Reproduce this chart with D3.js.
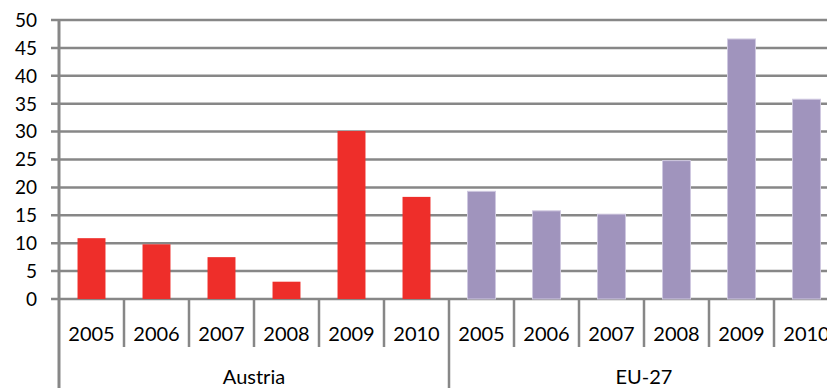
<!DOCTYPE html>
<html>
<head>
<meta charset="utf-8">
<script src="https://cdn.jsdelivr.net/npm/d3@7"></script>
<style>
  html, body { margin: 0; padding: 0; background: #fff; }
  svg { display: block; }
  text { font-family: Lato, "Open Sans", sans-serif; fill: #000; }
</style>
</head>
<body>
<svg id="chart" width="827" height="388"></svg>
<script>
// Chart data
const groups = ["Austria", "EU-27"];
const years = ["2005", "2006", "2007", "2008", "2009", "2010"];
const austria = [10.9, 9.8, 7.5, 3.1, 30.1, 18.3];
const eu27 = [19.3, 15.8, 15.2, 24.8, 46.6, 35.8];
const yTicks = [0, 5, 10, 15, 20, 25, 30, 35, 40, 45, 50];
const groupColors = ["#ee2e2a", "#a094bd"];

const rows = [];
[austria, eu27].forEach((vals, gi) => {
  vals.forEach((v, yi) => rows.push({ group: groups[gi], gi, year: years[yi], key: groups[gi] + "|" + years[yi], value: v }));
});

const svg = d3.select("#chart");
const plotLeft = 59, plotRight = 839, plotTop = 20, plotBottom = 299;
const gridColor = "#878787";

const x = d3.scaleBand()
  .domain(rows.map(d => d.key))
  .range([plotLeft, plotRight])
  .paddingInner(0.57)
  .paddingOuter(0.285);

const y = d3.scaleLinear().domain([0, 50]).range([plotBottom, plotTop]);

// Horizontal gridlines (extend left as tick marks)
svg.append("g")
  .selectAll("line")
  .data(yTicks)
  .join("line")
  .attr("x1", plotLeft - 8)
  .attr("x2", plotRight)
  .attr("y1", d => y(d))
  .attr("y2", d => y(d))
  .attr("stroke", gridColor)
  .attr("stroke-width", 2.5);

// Y tick labels
svg.append("g")
  .selectAll("text")
  .data(yTicks)
  .join("text")
  .attr("x", 37)
  .attr("y", d => y(d))
  .attr("dy", "0.36em")
  .attr("text-anchor", "end")
  .style("font-size", "19px")
  .text(d => d);

// Bars
svg.append("g")
  .selectAll("rect")
  .data(rows)
  .join("rect")
  .attr("x", d => x(d.key))
  .attr("width", x.bandwidth())
  .attr("y", d => y(d.value))
  .attr("height", d => y(0) - y(d.value))
  .attr("fill", d => groupColors[d.gi])
  .attr("stroke", d => d.gi === 1 ? "#cfc8e0" : "none")
  .attr("stroke-width", 1);

// Y axis line (runs down through the category labels)
svg.append("line")
  .attr("x1", plotLeft).attr("x2", plotLeft)
  .attr("y1", plotTop).attr("y2", 388)
  .attr("stroke", gridColor)
  .attr("stroke-width", 3);

// Category separators between years
const step = x.step();
const sepData = d3.range(1, rows.length + 1);
svg.append("g")
  .selectAll("line")
  .data(sepData)
  .join("line")
  .attr("x1", i => plotLeft + i * step)
  .attr("x2", i => plotLeft + i * step)
  .attr("y1", plotBottom)
  .attr("y2", i => (i % years.length === 0) ? 388 : 347)
  .attr("stroke", gridColor)
  .attr("stroke-width", 2.5);

// Year labels
svg.append("g")
  .selectAll("text")
  .data(rows)
  .join("text")
  .attr("x", d => x(d.key) + x.bandwidth() / 2)
  .attr("y", 341)
  .attr("text-anchor", "middle")
  .style("font-size", "20px")
  .text(d => d.year);

// Group labels
svg.append("g")
  .selectAll("text")
  .data(groups)
  .join("text")
  .attr("x", (g, i) => plotLeft + (i + 0.5) * years.length * step)
  .attr("y", 384)
  .attr("text-anchor", "middle")
  .style("font-size", "20px")
  .text(d => d);
</script>
</body>
</html>
